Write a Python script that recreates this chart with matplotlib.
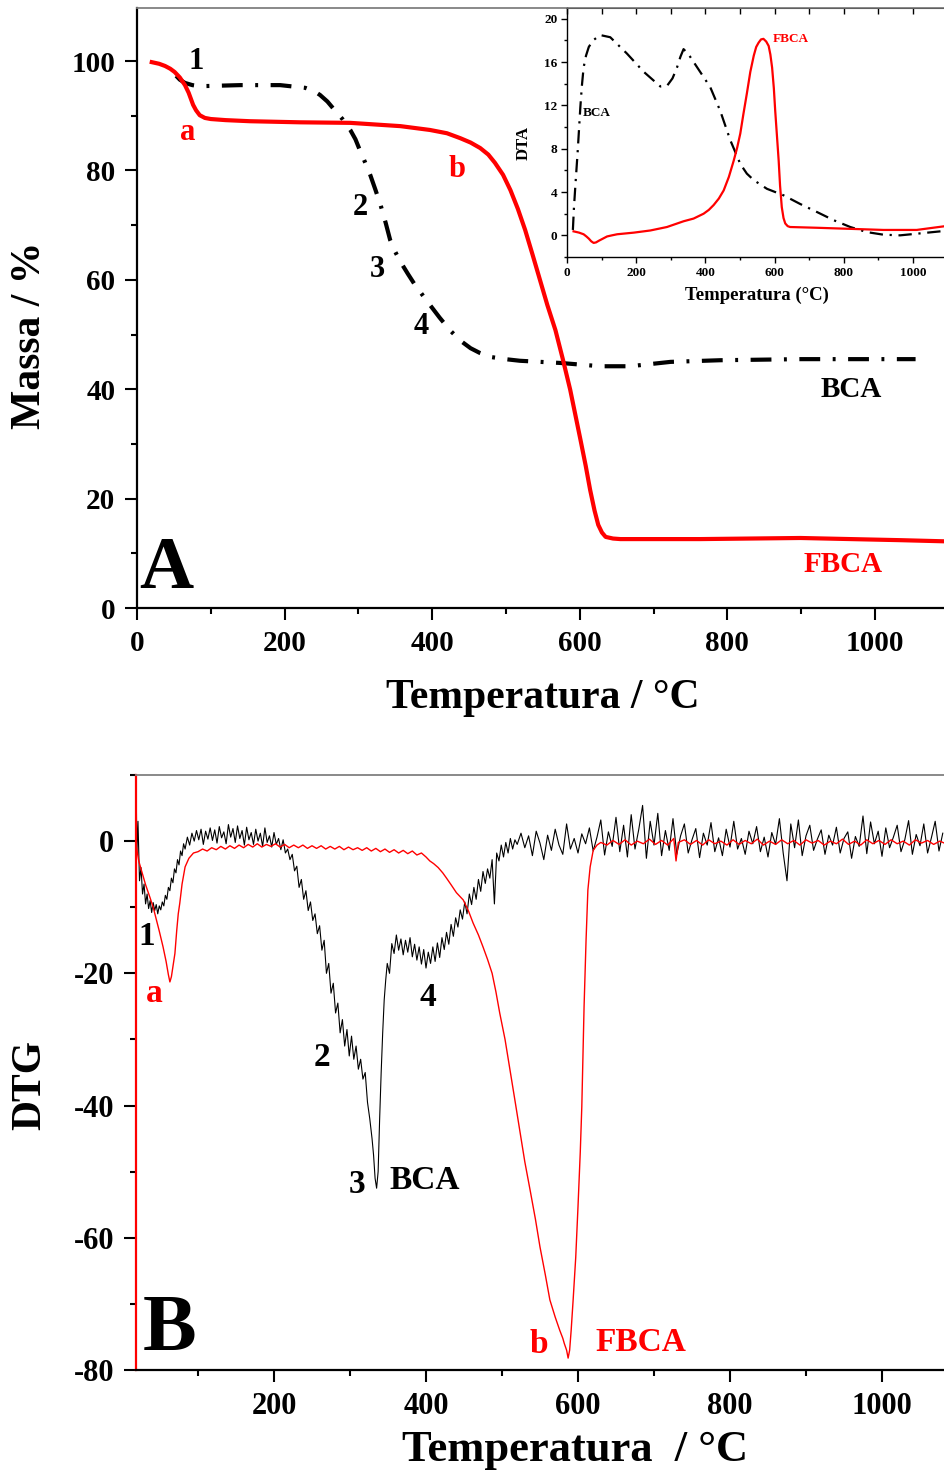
import matplotlib
matplotlib.use("Agg")
import matplotlib.pyplot as plt
from matplotlib.ticker import MultipleLocator

plt.rcParams['font.family'] = ['Liberation Serif', 'DejaVu Serif']
plt.rcParams['font.weight'] = 'bold'
plt.rcParams['axes.unicode_minus'] = False

# ---------------- TG curves (panel A) ----------------
tg_fbca_t = [20, 30, 38, 45, 51, 58, 65, 70, 76, 80, 85, 92, 100, 120, 153, 221, 289, 357, 397,
             420, 438, 452, 465, 476, 485, 496, 506, 516, 526, 536, 546, 556, 567, 577, 587, 594,
             601, 608, 614, 620, 625, 630, 635, 645, 655, 763, 899, 1035, 1092]
tg_fbca_m = [99.8, 99.5, 99.1, 98.6, 98.0, 97.0, 95.6, 94.2, 92.0, 91.0, 90.1, 89.6, 89.4, 89.2,
             89.0, 88.8, 88.7, 88.1, 87.4, 86.8, 85.9, 85.1, 84.1, 82.9, 81.4, 79.2, 76.4, 73.0,
             69.1, 64.6, 60.0, 55.4, 50.8, 45.5, 39.9, 35.3, 30.7, 26.0, 21.6, 17.8, 15.2, 13.8,
             13.0, 12.7, 12.6, 12.6, 12.8, 12.4, 12.2]

tg_bca_t = [53, 58, 65, 75, 85, 140, 194, 228, 240, 248, 258, 268, 279, 289, 296, 302, 309, 316,
            323, 330, 337, 343, 350, 357, 367, 377, 387, 397, 410, 424, 438, 452, 465, 479, 499,
            519, 574, 628, 668, 723, 790, 899, 980, 1055]
tg_bca_m = [97.3, 96.6, 96.0, 95.6, 95.4, 95.6, 95.6, 95.1, 94.5, 93.8, 92.6, 91.0, 89.3, 87.4,
            85.7, 83.7, 81.5, 79.2, 76.5, 73.7, 70.4, 67.3, 65.1, 63.3, 61.1, 59.0, 57.2, 55.4,
            53.1, 50.8, 48.9, 47.5, 46.6, 45.9, 45.5, 45.2, 44.8, 44.2, 44.2, 45.0, 45.3, 45.5,
            45.5, 45.5]

# ---------------- DTA curves (inset) ----------------
dta_bca_t = [17, 20, 24, 31, 38.5, 43, 48, 55, 63, 75, 96, 125, 173, 222, 270, 289, 305, 318,
             328, 337, 346, 356, 385, 414, 443, 472, 501, 520, 540, 578, 626, 674, 723, 771, 819,
             867, 915, 963, 1011, 1089]
dta_bca_v = [0.5, 2.5, 4.5, 7.8, 11.8, 13.8, 15.5, 16.6, 17.4, 18.0, 18.5, 18.3, 16.8, 15.1,
             13.75, 13.8, 14.5, 15.5, 16.5, 17.2, 16.9, 16.5, 15.1, 13.7, 11.5, 8.8, 6.6, 5.7,
             5.1, 4.3, 3.7, 2.9, 2.15, 1.4, 0.77, 0.3, 0.06, 0.0, 0.15, 0.4]

dta_fbca_t = [19, 35, 48, 56, 63, 70, 77, 84, 92, 104, 116, 130, 145, 193, 241, 289, 337, 366,
              395, 410, 424, 439, 453, 468, 482, 492, 501, 510, 520, 530, 540, 547, 554, 561,
              568, 576, 583, 588, 593, 598, 602, 607, 612, 616, 621, 626, 631, 638, 645, 723,
              819, 915, 1011, 1089]
dta_fbca_v = [0.37, 0.25, 0.1, -0.1, -0.3, -0.55, -0.7, -0.65, -0.5, -0.3, -0.1, 0.0, 0.1,
              0.25, 0.45, 0.77, 1.3, 1.55, 2.0, 2.35, 2.8, 3.4, 4.15, 5.4, 6.9, 8.1, 9.4, 11.2,
              13.1, 15.1, 16.6, 17.4, 17.8, 18.1, 18.15, 17.9, 17.5, 16.7, 15.5, 13.6, 11.5, 9.2,
              6.9, 4.6, 2.6, 1.6, 1.1, 0.85, 0.77, 0.7, 0.6, 0.5, 0.5, 0.83]

# ---------------- DTG curves (panel B) ----------------
dtg_bca_t = [18.5, 19.5, 21, 23, 25, 27, 29, 31, 33, 35, 37, 39, 41, 43, 45, 47, 49, 51, 53, 55,
             57, 59, 61, 63, 65, 67, 69, 71, 73, 75, 77, 79, 81, 83, 86, 89, 92, 95, 98,
             101, 104, 107, 110, 113, 116, 119, 122, 125, 128, 131, 134, 137, 140, 143, 146,
             149, 152, 155, 158, 161, 164, 167, 170, 173, 176, 179, 182, 185, 188, 191, 194,
             197, 200, 203, 206, 209, 212, 215,
             218, 221, 224, 227, 230, 233, 236, 239, 242, 245, 248, 251, 254, 257, 260, 263,
             266, 269, 272, 275, 278, 281, 284, 287, 290, 293, 296, 299, 302, 305, 308, 311,
             314, 317, 320, 323, 326, 329, 331, 333, 335, 337, 339, 341, 343, 345, 347, 349,
             352, 355, 358, 361, 364, 367, 370, 373, 376, 379, 382, 385, 388, 391, 394, 397,
             400, 403, 406, 409, 412, 415, 418, 421, 424, 427, 430, 433, 436, 439, 442, 445,
             448, 451, 454, 457, 460, 463, 466, 469, 472, 475, 478, 481, 484, 487, 490, 493,
             496, 499, 502, 505, 508, 511, 514, 517,
             520, 525, 530, 535, 540, 545, 550, 555, 560, 565,
             570, 575, 580, 585, 590, 595, 600, 605, 610, 615,
             620, 625, 630, 635, 640, 645, 650, 655, 660, 665,
             670, 675, 680, 685, 690, 695, 700, 705, 710, 715,
             720, 725, 730, 735, 740, 745, 750, 755, 760, 765,
             770, 775, 780, 785, 790, 795, 800, 805, 810, 815,
             820, 825, 830, 835, 840, 845, 850, 855, 860, 865,
             870, 875, 880, 885, 890, 895, 900, 905, 910, 915,
             920, 925, 930, 935, 940, 945, 950, 955, 960, 965,
             970, 975, 980, 985, 990, 995, 1000, 1005, 1010, 1015,
             1020, 1025, 1030, 1035, 1040, 1045, 1050, 1055, 1060, 1065,
             1070, 1075, 1080]
dtg_bca_v = [10.5, -2, 3, -6, -4, -8, -6.5, -9.5, -8, -10.2, -9, -10.8, -9.3, -10.5, -9.6, -11,
             -9.8, -10.4, -9.2, -9.8, -8.2, -8.8, -7, -7.5, -5.6, -6.3, -4.2, -4.8, -2.8, -3.6,
             -1.5, -2.2, -0.4, -1.2, 0.6, -0.6, 1.2, 0.0, 1.6,
             0.2, 1.8, -0.5, 1.5, 0.3, 2.0, 0.1, 1.7, -0.3, 2.2, 0.5, 1.4, -0.4, 2.5, 0.6, 1.9,
             -0.2, 2.3, 0.4, 1.6, -0.6, 2.1, 0.2, 1.3, -0.5, 1.8, 0.0, 1.2, -0.8, 2.0, -0.2, 0.8,
             -0.9, 1.3, -0.5, 0.4, -1.3, 0.2, -1.8,
             -1.2, -2.8, -2.0, -4.5, -3.8, -7.0, -5.8, -8.8, -7.5, -10.5, -9.2, -12.0, -11.0,
             -14.0, -12.8, -16.5, -15.0, -20.0, -18.5, -23.0, -21.5, -26.0, -24.5, -29.0,
             -27.0, -31.0, -28.5, -32.5, -29.5, -33.0, -31.0, -34.5, -33.0, -36.0, -35.0,
             -39.5, -42.0, -45.0, -47.5, -51.0, -52.5, -50.0, -42.0, -35.0, -29.0, -24.0,
             -21.0, -18.5, -20.0, -15.5, -17.0, -14.2, -16.5, -14.8, -17.2, -15.0, -16.8,
             -14.6, -17.5, -15.6, -18.0, -16.0, -18.6, -16.4, -19.2, -16.8, -18.5, -16.0,
             -18.2, -15.4, -17.6, -14.6, -16.4, -13.8, -15.6, -12.6, -14.4, -11.6, -13.0,
             -10.4, -11.8, -9.2, -11.0, -8.0, -9.6, -7.0, -8.8, -5.8, -7.6, -4.6, -6.4, -4.2,
             -5.6, -2.8, -9.5, -1.8, -3.0, -0.6, -2.4, -0.2, -1.8, 0.4, -1.2, 0.2,
             -0.5, 1.2, -1.0, 0.8, -2.2, 1.5, -0.3, -2.8, 0.9, -1.4,
             1.8, -0.6, -2.0, 2.6, -1.2, 0.4, -1.8, 1.1, -0.4, 2.0,
             -1.5, 0.6, 3.2, -2.1, 1.4, -0.8, 3.6, -1.6, 2.4, -2.4,
             4.0, -1.2, 1.8, 5.4, -2.6, 3.0, -0.6, 4.2, -2.2, 1.6,
             -1.4, 3.4, -2.0, 0.8, 2.6, -1.8, 0.2, 1.9, -2.5, 1.2,
             -0.6, 2.8, -1.6, 0.5, -2.2, 1.8, -0.9, 3.0, -1.2, 0.4,
             -2.0, 1.5, -0.4, 2.2, -1.6, 0.6, -2.4, 1.3, -0.5, 3.4,
             -1.8, -6.0, 2.6, -1.0, 3.2, -2.2, 0.8, 2.4, -1.4, 0.3,
             1.7, -2.0, 0.9, -0.6, 2.1, -1.8, 0.4, 1.4, -2.6, 0.7,
             -0.8, 3.8, -1.9, 2.9, -0.4, 1.5, -2.3, 2.0, -1.0, 0.6,
             2.4, -1.6, 0.2, 3.1, -2.0, 1.0, -0.7, 2.6, -1.8, 0.5,
             3.0, -1.5, 1.2]

dtg_fbca_t = [19, 22, 25, 28, 31, 34, 37, 41, 45, 49, 54, 58, 61, 63, 65, 67, 69.6, 72, 74, 76,
              79, 83, 88, 94, 100,
              106, 112, 118, 124, 130, 136, 142, 148, 154, 160, 166, 172, 178, 184, 190, 196,
              202, 208, 214, 220, 226, 232, 238, 244, 250, 256, 262, 268, 274, 280, 286, 292,
              298, 304, 310, 316, 322, 328, 334, 340, 346, 352, 358, 364, 370, 376, 382, 388,
              394, 400, 405, 410, 416, 422, 427, 433, 440, 449, 456, 462, 469, 475, 481, 487,
              492, 497, 504, 510, 517, 524, 530, 537, 544, 550, 557, 563, 570, 576, 580, 582,
              585, 587, 589, 591, 593.6, 597, 600, 603, 605, 608, 610.6, 613, 616, 620, 625,
              630, 638, 646, 654, 662, 670, 678, 686, 694, 702, 710, 718, 726, 729, 732, 740,
              748, 756, 764, 772, 780, 788, 796, 804, 812, 820, 828, 836, 844, 852, 860, 868,
              876, 884, 892, 900, 908, 916, 924, 932, 940, 948, 956, 964, 972, 980, 988, 996,
              1004, 1012, 1020, 1028, 1036, 1044, 1052, 1060, 1068, 1076, 1082]
dtg_fbca_v = [-0.9, -3.0, -4.2, -5.4, -6.6, -7.6, -8.6, -10.0, -11.8, -13.6, -16.0, -18.2,
              -20.2, -21.3, -20.5, -19.0, -17.0, -13.5, -11.0, -9.4, -6.5, -3.9, -2.6, -1.8,
              -1.6,
              -1.2, -1.5, -1.0, -1.3, -0.8, -1.2, -0.7, -1.1, -0.6, -1.0, -0.5, -0.9, -0.4,
              -0.9, -0.5, -0.8, -0.4, -0.9, -0.5, -1.0, -0.6, -1.0, -0.6, -1.1, -0.7, -1.1,
              -0.7, -1.2, -0.8, -1.2, -0.8, -1.3, -0.9, -1.3, -1.0, -1.4, -1.0, -1.5, -1.1,
              -1.6, -1.2, -1.7, -1.3, -1.8, -1.4, -1.9, -1.5, -2.1, -1.8, -2.4, -3.0, -3.4,
              -4.0, -4.8, -5.6, -6.6, -7.8, -8.9, -10.6, -12.4, -14.2, -16.0, -17.9, -20.0,
              -22.8, -26.0, -30.0, -34.2, -39.2, -44.2, -48.5, -52.8, -57.2, -61.4, -65.6,
              -69.4, -72.0, -74.0, -75.2, -76.0, -77.0, -78.2, -77.0, -74.0, -69.4, -63.0,
              -55.3, -47.0, -40.2, -25.0, -15.0, -7.4, -3.9, -1.4, -0.6,
              -0.2, -0.6, 0.1, -0.5, 0.2, -0.6, 0.0, -0.4, 0.3, -0.5, 0.1, -0.6, 0.4, -3.0,
              -0.2, 0.2, -0.5, 0.1, -0.6, 0.2, -0.4, 0.0, -0.6, 0.2, -0.5, 0.1, -0.4, 0.3,
              -0.6, 0.0, -0.5, 0.2, -0.4, 0.1, -0.6, 0.2, -0.3, 0.1, -0.6, 0.0, -0.4, 0.3,
              -0.5, 0.0, -0.6, 0.2, -0.4, 0.1, -0.5, 0.2, -0.4, 0.0, -0.6, 0.2, -0.3, 0.1,
              -0.5, 0.0, -0.3]

W, H = 944, 1472
fig = plt.figure(figsize=(W / 100, H / 100), dpi=100)


def box(l, t, r, b):  # pixel box -> figure fraction
    return [l / W, 1 - b / H, (r - l) / W, (b - t) / H]


def style_axes(ax, tick_size):
    for s in ['left', 'bottom']:
        ax.spines[s].set_linewidth(1.6)
    ax.spines['top'].set_color('#808080')
    ax.spines['top'].set_linewidth(1.3)
    ax.spines['right'].set_visible(False)
    ax.tick_params(which='major', direction='out', length=8.5, width=1.5, labelsize=tick_size, pad=7)
    ax.tick_params(which='minor', direction='out', length=4.5, width=1.5)


# ---------------- panel A ----------------
axA = fig.add_axes(box(137, 8, 944, 608))
axA.plot(tg_bca_t, tg_bca_m, color='black', lw=3.0, dashes=(5, 3, 0.7, 3),
         dash_joinstyle='round')
axA.plot(tg_fbca_t, tg_fbca_m, color='red', lw=3.0, solid_joinstyle='round')
axA.set_xlim(0, 1093.5)
axA.set_ylim(0, 109.7)
axA.xaxis.set_major_locator(MultipleLocator(200))
axA.xaxis.set_minor_locator(MultipleLocator(100))
axA.yaxis.set_major_locator(MultipleLocator(20))
axA.yaxis.set_minor_locator(MultipleLocator(10))
style_axes(axA, 21)

ann = dict(ha='center', va='center', fontsize=22, fontweight='bold')
axA.text(80.6, 99.9, '1', **ann)
axA.text(68.4, 86.9, 'a', color='red', **ann)
axA.text(433.6, 80.1, 'b', color='red', **ann)
axA.text(303, 73.3, '2', **ann)
axA.text(326, 61.8, '3', **ann)
axA.text(384.8, 51.4, '4', **ann)
axA.text(967.5, 40.0, 'BCA', ha='center', va='center', fontsize=21)
axA.text(956.6, 7.9, 'FBCA', color='red', ha='center', va='center', fontsize=21)
axA.text(39.3, 7.0, 'A', ha='center', va='center', fontsize=54)

fig.text(30 / W, 1 - 335 / H, 'Massa / %', rotation=90, ha='center', va='center', fontsize=30)
fig.text(543 / W, 1 - 698 / H, 'Temperatura / °C', ha='center', va='center', fontsize=30)

# ---------------- inset DTA ----------------
axI = fig.add_axes(box(567, 8, 944, 257))
axI.plot(dta_bca_t, dta_bca_v, color='black', lw=1.6, dashes=(6, 3, 1, 3),
         dash_joinstyle='round')
axI.plot(dta_fbca_t, dta_fbca_v, color='red', lw=1.6, solid_joinstyle='round')
axI.set_xlim(0, 1090)
axI.set_ylim(-2, 21)
axI.xaxis.set_major_locator(MultipleLocator(200))
axI.xaxis.set_minor_locator(MultipleLocator(100))
axI.yaxis.set_major_locator(MultipleLocator(4))
axI.yaxis.set_minor_locator(MultipleLocator(2))
for s in ['left', 'bottom']:
    axI.spines[s].set_linewidth(1.0)
axI.spines['top'].set_color('#606060')
axI.spines['right'].set_visible(False)
axI.tick_params(which='major', direction='out', length=4, width=1, labelsize=9.5, pad=3)
axI.tick_params(which='minor', direction='out', length=2.5, width=1)
top = axI.secondary_xaxis('top')
top.xaxis.set_major_locator(MultipleLocator(100))
top.tick_params(direction='in', length=4, width=1, labeltop=False)
top.spines['top'].set_visible(False)
axI.text(86.7, 11.3, 'BCA', ha='center', va='center', fontsize=9.5)
axI.text(647, 18.1, 'FBCA', color='red', ha='center', va='center', fontsize=9.5)
fig.text(524 / W, 1 - 143 / H, 'DTA', rotation=90, ha='center', va='center', fontsize=12)
fig.text(757 / W, 1 - 295 / H, 'Temperatura (°C)', ha='center', va='center', fontsize=13.5)

# ---------------- panel B ----------------
axB = fig.add_axes(box(136, 775, 944, 1370))
axB.plot(dtg_bca_t, dtg_bca_v, color='black', lw=0.8)
axB.plot(dtg_fbca_t, dtg_fbca_v, color='red', lw=1.0)
axB.set_xlim(18.4, 1081.6)
axB.set_ylim(-80, 10)
axB.xaxis.set_major_locator(MultipleLocator(200))
axB.xaxis.set_minor_locator(MultipleLocator(100))
axB.yaxis.set_major_locator(MultipleLocator(20))
axB.yaxis.set_minor_locator(MultipleLocator(10))
style_axes(axB, 22)
axB.spines['left'].set_color('red')

annB = dict(ha='center', va='center', fontsize=24, fontweight='bold')
axB.text(33, -14.5, '1', **annB)
axB.text(42, -23.0, 'a', color='red', **annB)
axB.text(263, -32.8, '2', **annB)
axB.text(402.6, -23.6, '4', **annB)
axB.text(309, -52.0, '3', **annB)
axB.text(398.7, -51.3, 'BCA', **annB)
axB.text(548.7, -76.2, 'b', color='red', **annB)
axB.text(683, -75.8, 'FBCA', color='red', **annB)
axB.text(62, -74.0, 'B', ha='center', va='center', fontsize=58)

fig.text(30 / W, 1 - 1085 / H, 'DTG', rotation=90, ha='center', va='center', fontsize=30)
fig.text(575 / W, 1 - 1450 / H, 'Temperatura  / °C', ha='center', va='center', fontsize=32)

fig.savefig('out.png', dpi=100)
